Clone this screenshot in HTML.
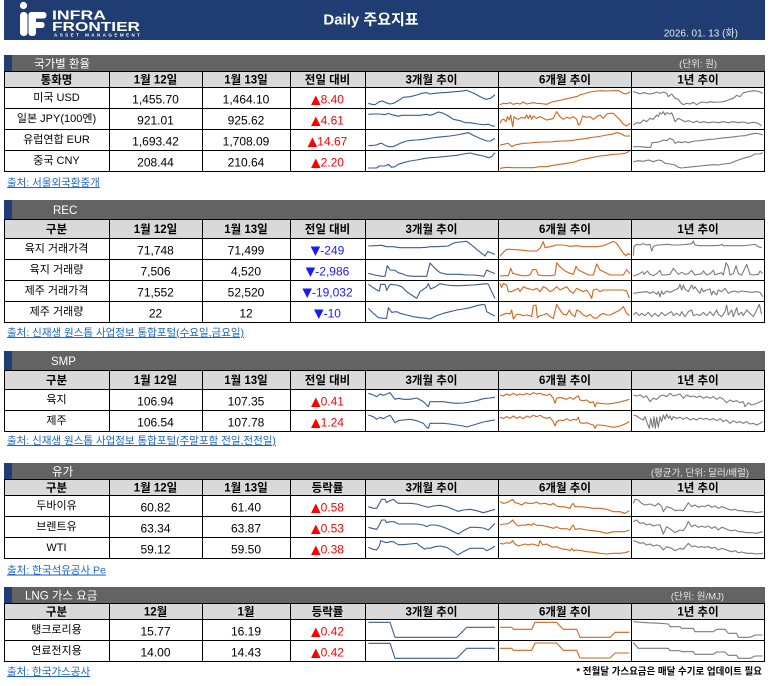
<!DOCTYPE html>
<html><head><meta charset="utf-8">
<style>
html,body{margin:0;padding:0;background:#fff;}
body{width:771px;height:686px;overflow:hidden;}
svg{display:block;}
text{font-family:"Liberation Sans","Noto Sans CJK KR",sans-serif;}
.k{font-size:11px;fill:#000;}
.h{font-size:11.5px;font-weight:bold;fill:#000;}
.n{font-size:12px;fill:#000;}
.up{font-size:12px;fill:#ff0000;}
.dn{font-size:12px;fill:#1a1aff;}
.tri{font-family:"DejaVu Sans",sans-serif;font-size:12.5px;}
.bt{font-size:11.5px;fill:#fff;}
.unit{font-size:9.5px;fill:#e6e6e6;}
.src{font-size:10.5px;fill:#1a66c9;text-decoration:underline;}
.s3{fill:none;stroke:#3a5c93;stroke-width:1.1;vector-effect:non-scaling-stroke;stroke-linejoin:round;}
.s6{fill:none;stroke:#d2651f;stroke-width:1.1;vector-effect:non-scaling-stroke;stroke-linejoin:round;}
.s1{fill:none;stroke:#7a7a7a;stroke-width:1.1;vector-effect:non-scaling-stroke;stroke-linejoin:round;}
.grid{fill:none;stroke:#000;stroke-width:1;}
</style></head>
<body>
<svg width="771" height="686" viewBox="0 0 771 686" xmlns="http://www.w3.org/2000/svg">
<!-- Header -->
<rect x="4" y="0" width="761" height="40" fill="#1f3d73"/>
<circle cx="23.5" cy="5.5" r="3.6" fill="#fff"/>
<rect x="20" y="12" width="7.5" height="24" rx="3.5" fill="#fff"/>
<rect x="28.5" y="12" width="7.5" height="24" rx="3" fill="#fff"/>
<rect x="28.5" y="12" width="18" height="6.5" rx="3" fill="#fff"/>
<rect x="28.5" y="22" width="16" height="6" rx="2.5" fill="#fff"/>
<text x="52" y="19.5" font-size="12.5" font-weight="bold" fill="#fff" textLength="54" lengthAdjust="spacingAndGlyphs">INFRA</text>
<text x="52" y="31" font-size="12.5" font-weight="bold" fill="#fff" textLength="88" lengthAdjust="spacingAndGlyphs">FRONTIER</text>
<text x="54" y="36.5" font-size="4.5" font-weight="bold" fill="#fff" textLength="86" lengthAdjust="spacing">ASSET MANAGEMENT</text>
<text x="371" y="24.5" font-size="15" font-weight="bold" fill="#fff" text-anchor="middle">Daily 주요지표</text>
<text x="738" y="36.5" font-size="10" fill="#e8e8e8" text-anchor="end">2026. 01. 13 (화)</text>

<!-- ===== Section 1 ===== -->
<rect x="4" y="55" width="761" height="16" fill="#636363"/>
<rect x="4" y="55" width="8" height="16" fill="#1f3d73"/>
<text class="bt" x="34" y="67.5">국가별 환율</text>
<text class="unit" x="717" y="67" text-anchor="end">(단위: 원)</text>
<rect x="4" y="71" width="761" height="16" fill="#d9d9d9"/>
<path class="grid" d="M4 71.5H765M4 87.5H765M4 108.5H765M4 129.5H765M4 150.5H765M4 171.5H765M4.5 71V172M109.5 71V172M202.5 71V172M290.5 71V172M365.5 71V172M498.5 71V172M631.5 71V172M764.5 71V172"/>
<g text-anchor="middle">
<text class="h" x="56.5" y="83.5">통화명</text><text class="h" x="155.5" y="83.5">1월 12일</text><text class="h" x="246" y="83.5">1월 13일</text><text class="h" x="327.5" y="83.5">전일 대비</text><text class="h" x="431.5" y="83.5">3개월 추이</text><text class="h" x="565" y="83.5">6개월 추이</text><text class="h" x="698" y="83.5">1년 추이</text>
<text class="k" x="56.5" y="101">미국 USD</text><text class="n" x="155.5" y="103.5">1,455.70</text><text class="n" x="246" y="103.5">1,464.10</text><text class="up" x="327.5" y="103.5"><tspan class="tri">▲</tspan>8.40</text>
<text class="k" x="56.5" y="122">일본 JPY(100엔)</text><text class="n" x="155.5" y="124.5">921.01</text><text class="n" x="246" y="124.5">925.62</text><text class="up" x="327.5" y="124.5"><tspan class="tri">▲</tspan>4.61</text>
<text class="k" x="56.5" y="143">유럽연합 EUR</text><text class="n" x="155.5" y="145.5">1,693.42</text><text class="n" x="246" y="145.5">1,708.09</text><text class="up" x="327.5" y="145.5"><tspan class="tri">▲</tspan>14.67</text>
<text class="k" x="56.5" y="164">중국 CNY</text><text class="n" x="155.5" y="166.5">208.44</text><text class="n" x="246" y="166.5">210.64</text><text class="up" x="327.5" y="166.5"><tspan class="tri">▲</tspan>2.20</text>
</g>
<text class="src" x="7" y="186">출처: 서울외국환중개</text>
<g transform="translate(360 70) scale(0.3333333)">
<polyline class="s3" points="25,100 35,103 45,104 58,95 68,93 78,98 90,102 100,100 115,92 130,82 150,80 170,75 185,70 200,68 210,72 225,70 245,68 265,67 285,65 300,64 320,61 340,69 360,80 378,88 392,85 405,74"/>
<polyline class="s6" points="420,104 430,100 440,101 450,98 460,103 470,100 480,102 490,96 500,102 510,100 520,98 530,100 545,101 560,103 575,96 590,93 605,90 620,86 640,82 655,78 660,74 670,72 690,66 710,63 725,62 740,63 760,62 775,62 790,70 800,72 810,65"/>
<polyline class="s1" points="820,65 830,68 840,72 850,68 860,70 870,72 880,70 890,66 900,70 910,66 920,70 925,80 935,72 945,85 955,88 962,98 970,104 980,100 990,102 1000,97 1010,104 1020,98 1030,96 1040,98 1050,95 1060,97 1080,96 1090,95 1100,92 1110,88 1120,85 1130,76 1140,80 1150,68 1160,66 1170,64 1185,62 1200,66 1208,70"/>
<polyline class="s3" points="25,133 40,132 60,132 75,134 85,130 95,134 105,136 115,139 125,136 140,136 160,136 180,136 200,133 210,136 220,133 235,126 250,130 265,138 280,148 300,152 315,158 330,158 340,160 355,162 370,164 385,163 395,167 405,169"/>
<polyline class="s6" points="420,160 425,150 432,148 438,155 442,140 448,150 452,135 458,170 462,140 468,145 475,148 485,142 495,145 500,135 505,146 510,135 515,148 520,138 530,145 540,140 550,145 560,150 570,148 580,145 590,125 600,140 610,148 620,142 630,145 640,140 650,148 655,165 660,162 668,138 680,142 690,140 700,148 710,140 720,135 730,145 740,132 750,130 760,130 770,140 780,150 790,162 800,168 810,160"/>
<polyline class="s1" points="820,165 830,158 840,160 850,150 860,155 870,145 880,148 890,135 895,140 900,128 905,132 910,125 915,135 920,128 930,132 935,128 940,140 945,155 955,145 965,150 975,155 985,152 1000,158 1010,153 1020,158 1030,155 1045,158 1060,156 1075,158 1090,155 1105,158 1120,155 1135,158 1150,156 1165,160 1180,157 1195,160 1205,168"/>
<polyline class="s3" points="25,227 40,226 50,225 58,221 65,220 75,226 85,230 100,230 110,225 125,218 140,213 155,211 170,210 190,208 205,206 215,204 230,202 250,200 270,198 290,195 310,191 325,188 340,196 360,205 380,213 392,213 405,205"/>
<polyline class="s6" points="420,225 435,222 445,220 455,230 465,225 475,223 490,220 510,219 530,217 550,216 570,216 590,214 610,213 630,212 645,210 660,208 675,206 690,203 705,201 725,198 740,195 755,193 770,188 780,190 795,198 810,198"/>
<polyline class="s1" points="820,230 840,230 860,232 872,232 876,218 890,217 900,215 910,210 920,212 930,205 940,210 945,220 955,215 965,218 975,215 985,218 995,215 1005,213 1020,212 1035,210 1050,208 1065,207 1080,205 1095,203 1110,202 1125,200 1140,198 1155,197 1170,193 1185,190 1200,192 1208,195"/>
<polyline class="s3" points="25,294 50,294 58,288 75,288 85,283 95,292 105,290 115,283 130,278 150,273 170,270 190,266 210,263 230,262 250,260 270,258 290,256 310,252 330,249 350,254 370,258 385,263 395,260 405,248"/>
<polyline class="s6" points="420,295 440,292 460,293 480,293 500,293 520,293 540,290 560,290 580,286 600,283 620,280 640,277 660,270 680,266 700,262 720,258 740,256 760,253 780,252 795,250 808,244"/>
<polyline class="s1" points="820,275 835,272 850,274 865,270 880,275 895,270 905,272 915,280 930,282 945,285 955,292 965,294 980,292 1000,290 1020,288 1040,286 1060,284 1075,285 1090,282 1110,280 1130,272 1150,265 1160,262 1170,260 1185,252 1200,252 1208,248"/>
</g>

<!-- ===== Section 2 REC ===== -->
<rect x="4" y="200" width="761" height="19" fill="#636363"/>
<rect x="4" y="200" width="8" height="19" fill="#1f3d73"/>
<text class="bt" x="53" y="214">REC</text>
<rect x="4" y="219" width="761" height="19" fill="#d9d9d9"/>
<path class="grid" d="M4 219.5H765M4 238.5H765M4 259.5H765M4 280.5H765M4 301.5H765M4 322.5H765M4.5 219V323M109.5 219V323M202.5 219V323M290.5 219V323M365.5 219V323M498.5 219V323M631.5 219V323M764.5 219V323"/>
<g text-anchor="middle">
<text class="h" x="56.5" y="233">구분</text><text class="h" x="155.5" y="233">1월 12일</text><text class="h" x="246" y="233">1월 13일</text><text class="h" x="327.5" y="233">전일 대비</text><text class="h" x="431.5" y="233">3개월 추이</text><text class="h" x="565" y="233">6개월 추이</text><text class="h" x="698" y="233">1년 추이</text>
<text class="k" x="56.5" y="252">육지 거래가격</text><text class="n" x="155.5" y="254.5">71,748</text><text class="n" x="246" y="254.5">71,499</text><text class="dn" x="327.5" y="254.5"><tspan class="tri">▼</tspan>-249</text>
<text class="k" x="56.5" y="273">육지 거래량</text><text class="n" x="155.5" y="275.5">7,506</text><text class="n" x="246" y="275.5">4,520</text><text class="dn" x="327.5" y="275.5"><tspan class="tri">▼</tspan>-2,986</text>
<text class="k" x="56.5" y="294">제주 거래가격</text><text class="n" x="155.5" y="296.5">71,552</text><text class="n" x="246" y="296.5">52,520</text><text class="dn" x="327.5" y="296.5"><tspan class="tri">▼</tspan>-19,032</text>
<text class="k" x="56.5" y="315">제주 거래량</text><text class="n" x="155.5" y="317.5">22</text><text class="n" x="246" y="317.5">12</text><text class="dn" x="327.5" y="317.5"><tspan class="tri">▼</tspan>-10</text>
</g>
<text class="src" x="7" y="336">출처: 신재생 원스톱 사업정보 통합포털(수요일,금요일)</text>
<g transform="translate(360 195) scale(0.3333333)">
<polyline class="s3" points="25,153 45,152 65,151 80,155 100,155 120,158 140,158 160,158 180,158 200,157 210,155 230,155 250,154 265,153 275,147 285,143 300,141 320,139 335,150 350,163 365,175 375,183 383,170 390,172 405,178"/>
<polyline class="s6" points="420,183 430,172 440,163 450,163 470,164 490,166 510,168 530,168 540,160 550,140 555,158 570,155 590,150 610,150 630,154 650,152 670,155 690,155 710,155 730,152 745,146 760,139 770,145 780,160 790,175 798,182 805,175 810,180"/>
<polyline class="s1" points="820,182 822,155 830,148 840,150 850,146 860,150 870,148 875,168 880,155 890,150 900,150 920,148 940,150 960,150 980,148 995,146 1000,138 1005,150 1020,152 1040,152 1060,152 1080,151 1085,148 1090,152 1110,152 1130,152 1150,152 1170,150 1185,148 1195,155 1205,158"/>
<polyline class="s3" points="25,235 45,240 65,244 75,244 82,212 90,225 105,226 115,233 125,236 140,242 160,244 180,244 200,244 210,204 225,220 240,233 260,238 280,238 300,238 320,240 340,240 360,242 372,244 380,225 390,230 405,236"/>
<polyline class="s6" points="420,243 435,242 445,242 452,220 458,235 470,238 485,242 500,242 510,240 518,224 528,224 535,240 550,242 570,242 585,240 590,203 600,215 615,228 630,235 640,238 648,214 655,225 670,232 685,240 700,240 710,207 720,225 735,232 750,240 770,240 790,240 800,224 810,236"/>
<polyline class="s1" points="820,243 835,238 848,230 852,238 862,228 870,238 880,242 890,236 900,226 905,240 915,240 930,238 940,220 945,226 955,238 965,232 975,238 985,236 995,226 1005,240 1015,238 1025,236 1030,228 1040,240 1050,236 1060,226 1065,240 1075,236 1085,233 1090,240 1098,203 1105,215 1110,240 1120,236 1128,212 1135,236 1145,240 1160,208 1170,238 1180,240 1195,238 1200,228 1208,236"/>
<polyline class="s3" points="25,268 40,278 50,285 58,288 62,268 75,268 80,286 90,268 110,270 125,275 140,290 155,300 170,310 180,290 190,283 200,276 205,266 212,282 225,276 240,266 260,270 280,272 300,272 320,271 340,270 360,268 380,266 385,268 395,290 405,310"/>
<polyline class="s6" points="420,265 425,278 430,265 440,270 445,290 455,290 465,285 475,280 480,290 490,275 500,280 510,282 520,285 530,280 540,290 550,275 560,280 570,290 580,285 590,275 600,285 610,280 620,275 630,288 640,295 650,280 660,285 670,290 680,285 690,300 695,310 700,285 710,282 720,290 730,285 750,285 770,285 790,285 800,288 808,310"/>
<polyline class="s1" points="820,295 840,292 860,290 870,295 880,290 890,298 895,290 900,305 905,288 910,298 920,288 930,292 945,285 955,280 960,268 965,285 970,270 975,282 985,290 995,270 1000,282 1005,275 1015,290 1020,295 1025,280 1030,290 1040,285 1050,282 1055,300 1060,288 1070,300 1075,285 1085,290 1095,280 1105,295 1115,290 1125,288 1135,292 1145,288 1160,290 1175,292 1190,290 1200,292 1208,305"/>
<polyline class="s3" points="25,340 40,355 55,368 70,370 80,370 85,338 95,352 110,350 120,355 140,360 160,365 180,368 200,370 210,372 230,362 250,355 270,350 290,345 310,342 330,338 350,332 370,328 375,330 380,350 392,357 405,363"/>
<polyline class="s6" points="420,363 430,358 440,355 450,357 455,345 460,372 470,358 480,358 490,362 500,360 510,362 515,365 520,332 528,330 532,368 540,362 550,360 560,355 570,365 580,370 590,328 600,345 610,358 620,360 628,345 635,358 645,365 650,345 660,350 670,360 680,365 690,358 700,368 710,370 720,360 730,355 740,360 750,360 760,355 770,350 780,345 790,335 795,345 800,355 808,362"/>
<polyline class="s1" points="820,360 828,352 838,362 845,355 855,362 865,352 875,365 885,355 895,365 905,352 915,362 925,355 935,350 940,362 950,355 960,362 965,350 975,365 985,350 995,345 1000,362 1010,358 1020,362 1030,352 1040,362 1050,350 1060,362 1070,345 1075,358 1085,365 1095,350 1100,330 1105,360 1115,345 1120,365 1130,338 1135,360 1145,352 1150,362 1160,345 1170,355 1180,365 1190,345 1198,328 1205,358"/>
</g>

<!-- ===== Section 3 SMP ===== -->
<rect x="4" y="351" width="761" height="19" fill="#636363"/>
<rect x="4" y="351" width="8" height="19" fill="#1f3d73"/>
<text class="bt" x="51" y="365">SMP</text>
<rect x="4" y="370" width="761" height="19" fill="#d9d9d9"/>
<path class="grid" d="M4 370.5H765M4 389.5H765M4 410.5H765M4 431.5H765M4.5 370V432M109.5 370V432M202.5 370V432M290.5 370V432M365.5 370V432M498.5 370V432M631.5 370V432M764.5 370V432"/>
<g text-anchor="middle">
<text class="h" x="56.5" y="384">구분</text><text class="h" x="155.5" y="384">1월 12일</text><text class="h" x="246" y="384">1월 13일</text><text class="h" x="327.5" y="384">전일 대비</text><text class="h" x="431.5" y="384">3개월 추이</text><text class="h" x="565" y="384">6개월 추이</text><text class="h" x="698" y="384">1년 추이</text>
<text class="k" x="56.5" y="403">육지</text><text class="n" x="155.5" y="405.5">106.94</text><text class="n" x="246" y="405.5">107.35</text><text class="up" x="327.5" y="405.5"><tspan class="tri">▲</tspan>0.41</text>
<text class="k" x="56.5" y="424">제주</text><text class="n" x="155.5" y="426.5">106.54</text><text class="n" x="246" y="426.5">107.78</text><text class="up" x="327.5" y="426.5"><tspan class="tri">▲</tspan>1.24</text>
</g>
<text class="src" x="7" y="444">출처: 신재생 원스톱 사업정보 통합포털(주말포함 전일,전전일)</text>

<!-- ===== Section 4 Oil ===== -->
<rect x="4" y="463" width="761" height="16" fill="#636363"/>
<rect x="4" y="463" width="8" height="16" fill="#1f3d73"/>
<text class="bt" x="52" y="475.5">유가</text>
<text class="unit" x="749" y="476" text-anchor="end">(평균가, 단위: 달러/배럴)</text>
<rect x="4" y="479" width="761" height="16" fill="#d9d9d9"/>
<path class="grid" d="M4 479.5H765M4 495.5H765M4 516.5H765M4 537.5H765M4 558.5H765M4.5 479V559M109.5 479V559M202.5 479V559M290.5 479V559M365.5 479V559M498.5 479V559M631.5 479V559M764.5 479V559"/>
<g text-anchor="middle">
<text class="h" x="56.5" y="491.5">구분</text><text class="h" x="155.5" y="491.5">1월 12일</text><text class="h" x="246" y="491.5">1월 13일</text><text class="h" x="327.5" y="491.5">등락률</text><text class="h" x="431.5" y="491.5">3개월 추이</text><text class="h" x="565" y="491.5">6개월 추이</text><text class="h" x="698" y="491.5">1년 추이</text>
<text class="k" x="56.5" y="509">두바이유</text><text class="n" x="155.5" y="511.5">60.82</text><text class="n" x="246" y="511.5">61.40</text><text class="up" x="327.5" y="511.5"><tspan class="tri">▲</tspan>0.58</text>
<text class="k" x="56.5" y="530">브렌트유</text><text class="n" x="155.5" y="532.5">63.34</text><text class="n" x="246" y="532.5">63.87</text><text class="up" x="327.5" y="532.5"><tspan class="tri">▲</tspan>0.53</text>
<text class="k" x="56.5" y="551">WTI</text><text class="n" x="155.5" y="553.5">59.12</text><text class="n" x="246" y="553.5">59.50</text><text class="up" x="327.5" y="553.5"><tspan class="tri">▲</tspan>0.38</text>
</g>
<text class="src" x="7" y="573.5">출처: 한국석유공사 Pe</text>

<g transform="translate(360 340) scale(0.3333333)">
<polyline class="s3" points="25,160 40,165 50,170 60,162 70,166 80,162 90,158 95,165 105,178 115,175 130,178 150,178 170,174 190,185 200,195 205,200 210,185 230,185 250,185 270,188 290,190 310,189 330,186 350,182 370,176 390,174 405,172"/>
<polyline class="s6" points="420,165 430,168 440,162 450,166 460,160 470,166 480,162 490,165 500,160 510,164 520,158 530,162 540,160 550,164 560,166 570,162 580,175 585,190 590,175 600,172 610,175 620,178 630,172 640,178 650,170 655,168 660,180 670,182 680,180 690,188 700,185 705,200 710,188 720,190 740,192 760,190 780,186 795,182 808,178"/>
<polyline class="s1" points="820,165 830,168 840,165 850,172 860,168 870,185 880,175 890,178 900,168 910,165 920,170 930,160 940,168 950,165 960,162 970,175 980,165 990,170 1000,168 1010,172 1020,168 1030,175 1040,170 1050,175 1060,170 1070,178 1080,172 1090,178 1100,188 1110,180 1120,185 1130,182 1140,188 1150,185 1155,200 1165,188 1175,195 1185,192 1195,188 1208,182"/>
<polyline class="s3" points="25,225 40,230 50,238 60,232 70,236 80,230 90,226 95,232 105,248 115,242 130,240 150,238 170,242 190,250 200,262 205,265 210,250 230,250 250,250 270,252 290,255 310,258 320,261 330,258 350,252 370,246 390,242 405,240"/>
<polyline class="s6" points="420,232 430,235 440,230 450,235 460,228 470,235 480,230 490,236 500,228 510,232 520,226 530,230 540,226 550,232 560,235 570,232 580,245 585,258 590,245 600,240 610,242 620,236 630,242 640,238 650,240 655,232 660,248 670,250 680,248 690,252 700,255 705,265 710,255 720,255 740,258 760,262 780,258 795,252 808,245"/>
<polyline class="s1" points="820,225 830,228 840,235 850,240 855,230 862,250 868,265 872,235 878,262 882,230 886,265 890,232 895,262 900,230 905,245 910,225 915,238 920,222 925,235 930,228 935,240 940,230 950,235 960,232 970,238 980,232 990,240 1000,235 1010,240 1020,234 1030,238 1040,235 1050,240 1060,236 1070,242 1080,236 1090,245 1100,240 1110,250 1120,242 1130,248 1140,245 1150,250 1160,245 1170,252 1180,250 1190,255 1200,250 1208,245"/>
<polyline class="s3" points="25,500 40,505 50,505 58,490 65,478 75,478 80,488 90,482 100,478 108,485 115,490 130,490 150,490 170,492 190,498 205,502 220,498 240,496 260,500 280,508 295,514 310,510 330,508 350,512 370,518 385,514 405,508"/>
<polyline class="s6" points="420,485 430,490 440,488 450,483 458,478 465,488 475,490 485,495 495,488 505,490 520,490 530,486 540,492 555,490 570,495 580,490 590,498 600,500 610,500 620,502 630,505 635,495 640,490 645,500 660,500 680,502 700,505 720,505 740,508 760,515 780,515 795,520 808,512"/>
<polyline class="s1" points="820,490 825,478 835,480 845,490 855,495 870,492 885,498 895,490 905,500 910,515 920,500 935,505 945,512 960,510 970,512 978,500 985,488 995,500 1005,495 1015,502 1025,498 1035,500 1045,495 1055,502 1065,498 1075,505 1085,500 1095,503 1105,508 1115,510 1125,508 1135,512 1145,512 1160,515 1175,515 1190,518 1208,515"/>
<polyline class="s3" points="25,562 40,566 50,568 58,555 65,540 75,540 80,548 90,545 100,545 108,548 115,552 130,552 150,552 170,552 190,555 200,560 210,555 225,555 240,558 260,565 280,575 295,582 310,572 330,562 350,562 370,564 385,570 405,550"/>
<polyline class="s6" points="420,555 430,552 440,552 450,548 458,540 465,550 475,558 485,555 495,556 505,553 515,556 520,550 530,556 540,556 555,558 570,562 580,565 590,560 600,566 610,566 620,566 630,570 635,560 640,555 645,568 660,566 680,570 700,572 720,575 740,580 760,575 780,575 795,575 808,570"/>
<polyline class="s1" points="820,545 830,540 840,550 850,548 860,555 870,552 880,558 890,555 900,555 910,582 920,560 935,570 945,578 960,570 970,572 978,560 985,545 995,560 1005,555 1015,562 1025,558 1035,562 1045,558 1055,565 1065,560 1075,570 1085,562 1095,565 1105,570 1115,572 1125,570 1135,575 1145,575 1160,578 1175,578 1190,580 1208,575"/>
<polyline class="s3" points="25,622 40,628 50,630 58,618 62,602 70,605 80,608 90,605 100,605 108,610 115,614 130,614 150,612 170,610 180,618 195,628 200,624 210,625 225,620 240,618 260,622 280,635 293,645 310,635 330,625 350,625 370,625 380,632 395,625 405,618"/>
<polyline class="s6" points="420,610 430,612 440,608 450,610 458,602 465,612 475,618 485,615 495,612 505,615 515,612 525,614 535,618 540,602 548,615 560,612 570,618 580,622 590,620 600,625 610,628 620,628 630,632 635,625 640,632 650,630 665,632 680,635 700,637 720,640 740,642 760,640 780,640 795,638 808,634"/>
<polyline class="s1" points="820,602 830,605 840,610 850,608 860,615 870,612 880,618 890,615 900,618 910,630 920,620 935,625 945,632 960,625 970,628 978,618 985,610 995,620 1005,618 1015,622 1025,620 1035,622 1045,620 1055,625 1065,622 1075,630 1085,625 1095,628 1105,632 1115,635 1125,632 1135,638 1145,636 1160,640 1175,640 1190,642 1208,640"/>
</g>

<!-- ===== Section 5 LNG ===== -->
<rect x="4" y="587" width="761" height="16" fill="#636363"/>
<rect x="4" y="587" width="8" height="16" fill="#1f3d73"/>
<text class="bt" x="25" y="599.5">LNG 가스 요금</text>
<text class="unit" x="724" y="599.5" text-anchor="end">(단위: 원/MJ)</text>
<rect x="4" y="603" width="761" height="16" fill="#d9d9d9"/>
<path class="grid" d="M4 603.5H765M4 619.5H765M4 640.5H765M4 661.5H765M4.5 603V662M109.5 603V662M202.5 603V662M290.5 603V662M365.5 603V662M498.5 603V662M631.5 603V662M764.5 603V662"/>
<g text-anchor="middle">
<text class="h" x="56.5" y="615.5">구분</text><text class="h" x="155.5" y="615.5">12월</text><text class="h" x="246" y="615.5">1월</text><text class="h" x="327.5" y="615.5">등락률</text><text class="h" x="431.5" y="615.5">3개월 추이</text><text class="h" x="565" y="615.5">6개월 추이</text><text class="h" x="698" y="615.5">1년 추이</text>
<text class="k" x="56.5" y="633">탱크로리용</text><text class="n" x="155.5" y="635.5">15.77</text><text class="n" x="246" y="635.5">16.19</text><text class="up" x="327.5" y="635.5"><tspan class="tri">▲</tspan>0.42</text>
<text class="k" x="56.5" y="654">연료전지용</text><text class="n" x="155.5" y="656.5">14.00</text><text class="n" x="246" y="656.5">14.43</text><text class="up" x="327.5" y="656.5"><tspan class="tri">▲</tspan>0.42</text>
</g>
<text class="src" x="7" y="675">출처: 한국가스공사</text>
<text x="762" y="674.5" font-size="9.5" font-weight="bold" fill="#000" text-anchor="end">* 전월달 가스요금은 매달 수기로 업데이트 필요</text>
<g transform="translate(360 580) scale(0.3333333)">
<polyline class="s3" points="25,127 90,127 105,172 290,172 320,142 405,142"/>
<polyline class="s6" points="420,142 455,142 460,148 515,148 525,127 590,127 610,148 650,148 660,172 750,172 765,157 808,157"/>
<polyline class="s1" points="820,125 860,128 900,130 925,132 930,140 960,140 965,145 1000,145 1005,155 1060,155 1070,148 1095,148 1105,160 1130,160 1135,172 1170,172 1185,165 1208,165"/>
<polyline class="s3" points="25,190 90,190 105,235 290,235 320,205 405,205"/>
<polyline class="s6" points="420,205 455,205 460,211 515,211 525,189 590,189 610,211 650,211 660,234 750,234 765,219 808,219"/>
<polyline class="s1" points="820,188 835,205 900,205 925,205 930,212 960,212 965,215 1000,215 1005,223 1060,223 1070,216 1095,216 1105,226 1130,226 1135,235 1170,235 1185,228 1208,228"/>
</g>
</svg>
</body></html>
